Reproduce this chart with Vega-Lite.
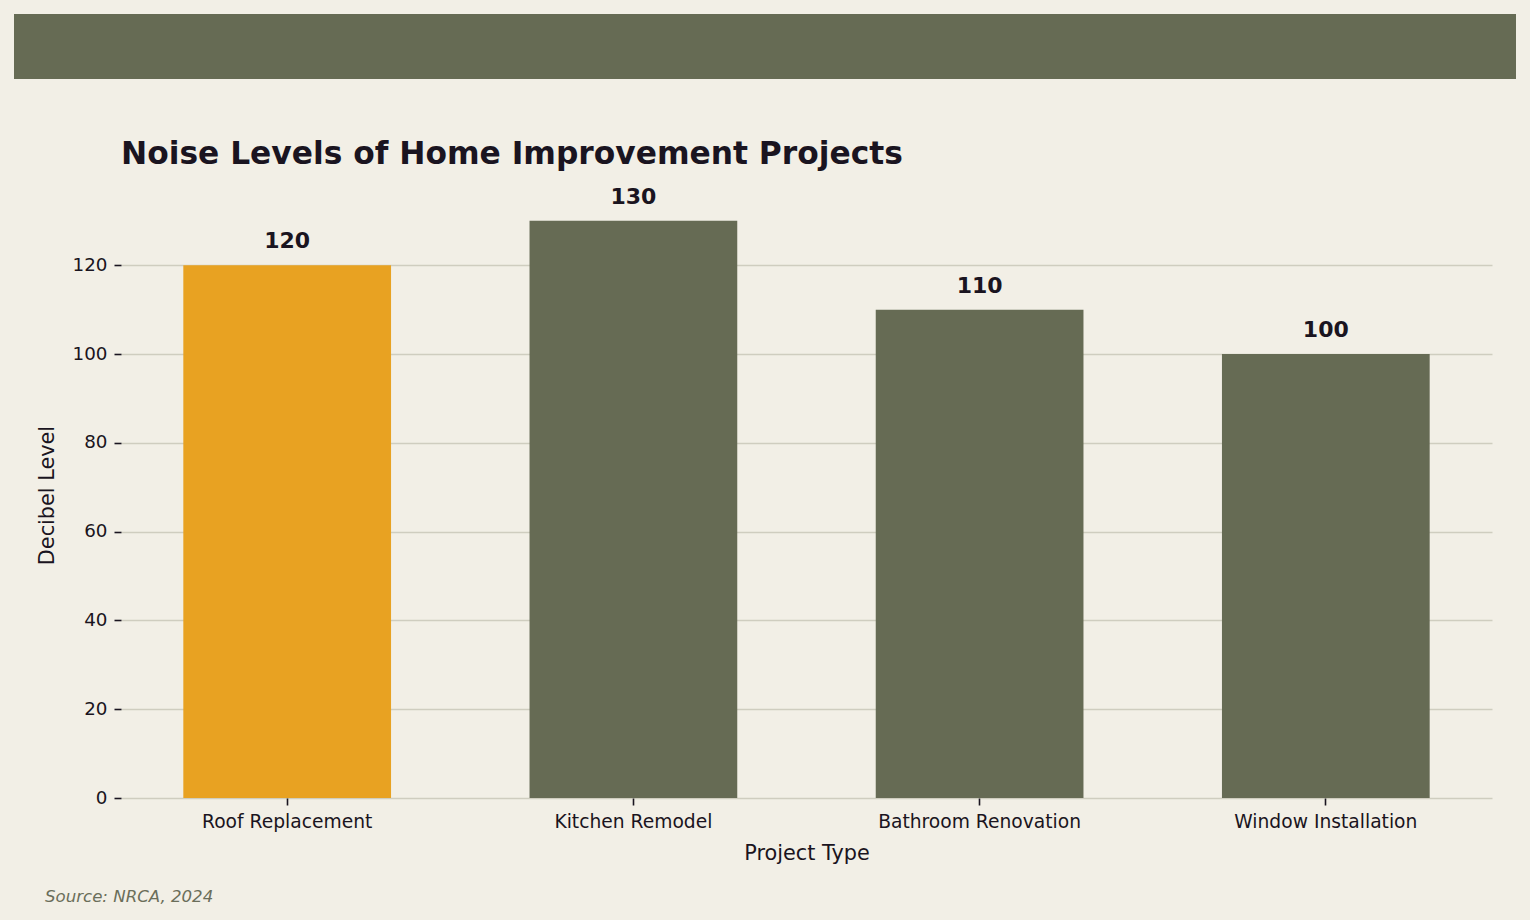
{
  "$schema": "https://vega.github.io/schema/vega-lite/v6.json",
  "background": "#f2efe6",
  "padding": {"left": 14, "top": 14, "right": 14, "bottom": 14},
  "title": {
    "text": "Source: NRCA, 2024",
    "orient": "bottom",
    "anchor": "start",
    "dx": 31,
    "offset": 25,
    "fontSize": 16.6,
    "fontStyle": "italic",
    "fontWeight": "normal",
    "color": "#6b6e5a",
    "font": "DejaVu Sans"
  },
  "spacing": 59,
  "vconcat": [
    {
      "width": 1502,
      "height": 65,
      "view": {"fill": "#666b54", "stroke": null},
      "data": {"values": [{"banner": 1}]},
      "mark": {"type": "point", "opacity": 0},
      "encoding": {}
    },
    {
      "spacing": 0,
      "hconcat": [
        {
          "width": 22,
          "height": 1,
          "view": {"stroke": null},
          "data": {"values": [{"spacer": 1}]},
          "mark": {"type": "point", "opacity": 0},
          "encoding": {}
        },
        {
          "width": 1371,
          "height": 606,
          "title": {
            "text": "Noise Levels of Home Improvement Projects",
            "anchor": "start",
            "frame": "group",
            "baseline": "alphabetic",
            "offset": -9,
            "fontSize": 31.3,
            "fontWeight": "bold",
            "color": "#1a1420",
            "font": "DejaVu Sans"
          },
          "data": {
            "values": [
              {"project": "Roof Replacement", "decibels": 120},
              {"project": "Kitchen Remodel", "decibels": 130},
              {"project": "Bathroom Renovation", "decibels": 110},
              {"project": "Window Installation", "decibels": 100}
            ]
          },
          "encoding": {
            "x": {
              "field": "project",
              "type": "nominal",
              "sort": null,
              "scale": {"paddingInner": 0.4, "paddingOuter": 0.18},
              "axis": {
                "title": "Project Type",
                "labelAngle": 0,
                "labelLimit": 0,
                "grid": false,
                "domain": false,
                "tickSize": 7,
                "tickWidth": 1.6,
                "tickColor": "#1a1420",
                "labelPadding": 7,
                "labelFontSize": 18.7,
                "labelColor": "#1a1420",
                "titleFontSize": 20.8,
                "titleFontWeight": "normal",
                "titleColor": "#1a1420",
                "titlePadding": 13
              }
            },
            "y": {
              "field": "decibels",
              "type": "quantitative",
              "scale": {"domain": [0, 136.5], "nice": false},
              "axis": {
                "title": "Decibel Level",
                "values": [0, 20, 40, 60, 80, 100, 120],
                "grid": true,
                "gridColor": "#cfcdbf",
                "gridWidth": 1.5,
                "domain": false,
                "tickSize": 7,
                "tickWidth": 1.6,
                "tickColor": "#1a1420",
                "labelPadding": 7,
                "labelFontSize": 18.3,
                "labelColor": "#1a1420",
                "titleFontSize": 20.8,
                "titleFontWeight": "normal",
                "titleColor": "#1a1420",
                "titlePadding": 15
              }
            }
          },
          "layer": [
            {
              "mark": {"type": "bar"},
              "encoding": {
                "color": {
                  "condition": {"test": "datum.project === 'Roof Replacement'", "value": "#e8a222"},
                  "value": "#666b54"
                }
              }
            },
            {
              "mark": {
                "type": "text",
                "baseline": "alphabetic",
                "dy": -17,
                "fontSize": 22,
                "fontWeight": "bold",
                "color": "#1a1420",
                "font": "DejaVu Sans"
              },
              "encoding": {"text": {"field": "decibels", "type": "quantitative"}}
            }
          ]
        }
      ]
    }
  ],
  "config": {
    "font": "DejaVu Sans",
    "view": {"stroke": null},
    "axis": {"labelFont": "DejaVu Sans", "titleFont": "DejaVu Sans"}
  }
}
